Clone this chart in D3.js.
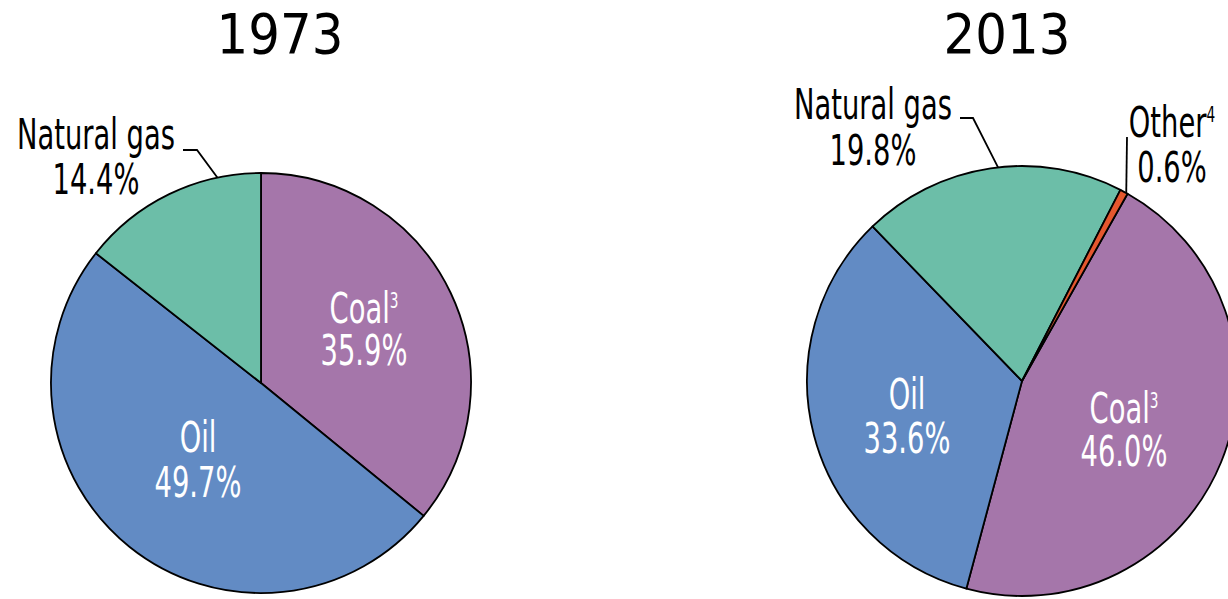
<!DOCTYPE html>
<html><head><meta charset="utf-8">
<script src="https://cdn.jsdelivr.net/npm/d3@7"></script>
<style>html,body{margin:0;padding:0;background:#fff;overflow:hidden}</style>
</head><body>
<svg id="chart" width="1228" height="599"></svg>
<script>
// ---- data ----
const years = ["1973", "2013"];
const categories1973 = ["Coal", "Oil", "Natural gas"];
const values1973 = [35.9, 49.7, 14.4];
const categories2013 = ["Coal", "Oil", "Natural gas", "Other"];
const values2013 = [46.0, 33.6, 19.8, 0.6];
const footnotes = {"Coal": "3", "Other": "4"};

// ---- styles ----
const colors = {"Coal": "#a576aa", "Oil": "#628bc4", "Natural gas": "#6cbea8", "Other": "#e4572e"};
const labelFont = "'Liberation Sans Narrow','DejaVu Sans Condensed','Liberation Sans',sans-serif";
const titleFont = "'DejaVu Sans','Noto Sans',sans-serif";

// ---- layout ----
const pies = [
  { year: years[0], cats: categories1973, vals: values1973, cx: 261, cy: 383, r: 210, start: 0,
    titleX: 280,
    labels: {
      "Coal": {x: 364, y: 323, gap: 42, inside: true},
      "Oil": {x: 198, y: 452, gap: 45, inside: true},
      "Natural gas": {x: 96, y: 149, gap: 45, inside: false, leader: {elbow: [[183,150],[197,150]], angle: 348}}
    }},
  { year: years[1], cats: categories2013, vals: values2013, cx: 1022, cy: 381, r: 215, start: 29.4,
    titleX: 1007,
    labels: {
      "Coal": {x: 1124, y: 423, gap: 43, inside: true},
      "Oil": {x: 907, y: 409, gap: 44, inside: true},
      "Natural gas": {x: 873, y: 119, gap: 46, inside: false, leader: {elbow: [[960,118],[973,118]], angle: 353.6}},
      "Other": {x: 1172, y: 137, gap: 45, inside: false, leader: {elbow: [[1127,137]], angle: 29.0}}
    }}
];

const svg = d3.select("#chart");

// Measure font to compress labels so "Natural gas" is ~158px wide (as in the reference)
const probe = svg.append("text").attr("font-family", labelFont).attr("font-size", 42).text("Natural gas");
const probeW = probe.node().getComputedTextLength() || 195;
probe.remove();
const sx = 158 / probeW;

pies.forEach(p => {
  const data = p.cats.map((c, i) => ({cat: c, val: p.vals[i]}));
  const s = p.start * Math.PI / 180;
  const pie = d3.pie().sort(null).value(d => d.val).startAngle(s).endAngle(s + 2 * Math.PI);
  const arc = d3.arc().innerRadius(0).outerRadius(p.r);
  const g = svg.append("g").attr("transform", `translate(${p.cx},${p.cy})`);
  g.selectAll("path").data(pie(data)).join("path")
    .attr("d", arc)
    .attr("fill", d => colors[d.data.cat])
    .attr("stroke", "#000")
    .attr("stroke-width", 1.8)
    .attr("stroke-linejoin", "round");

  // title
  svg.append("text")
    .attr("x", 0).attr("y", 53)
    .attr("text-anchor", "middle")
    .attr("font-family", titleFont)
    .attr("font-size", 56)
    .attr("fill", "#000")
    .attr("transform", `translate(${p.titleX},0) scale(0.89,1)`)
    .text(p.year);

  // labels
  data.forEach(d => {
    const L = p.labels[d.cat];
    if (!L) return;
    const fill = L.inside ? "#fff" : "#000";
    const lg = svg.append("g").attr("transform", `translate(${L.x},${L.y}) scale(${sx},1)`);
    const t1 = lg.append("text").attr("x", 0).attr("y", 0)
      .attr("text-anchor", "middle")
      .attr("font-family", labelFont).attr("font-size", 42).attr("fill", fill);
    t1.append("tspan").text(d.cat);
    if (footnotes[d.cat]) {
      t1.append("tspan").attr("dy", -15).attr("font-size", 21).text(footnotes[d.cat]);
    }
    lg.append("text").attr("x", 0).attr("y", L.gap)
      .attr("text-anchor", "middle")
      .attr("font-family", labelFont).attr("font-size", 42).attr("fill", fill)
      .text(d3.format(".1f")(d.val) + "%");

    if (L.leader) {
      const a = L.leader.angle * Math.PI / 180;
      const end = [p.cx + p.r * Math.sin(a), p.cy - p.r * Math.cos(a)];
      const pts = L.leader.elbow.concat([end]);
      svg.append("path")
        .attr("d", d3.line()(pts))
        .attr("fill", "none")
        .attr("stroke", "#000")
        .attr("stroke-width", 1.8);
    }
  });
});
</script>
</body></html>
